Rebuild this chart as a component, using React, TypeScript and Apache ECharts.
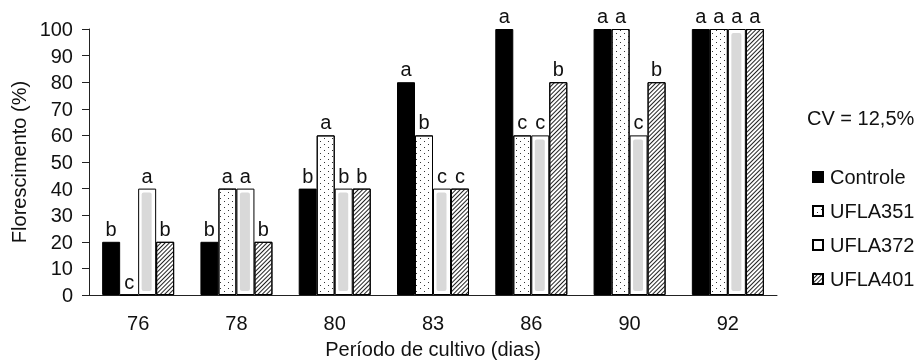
import React, { useEffect, useRef } from "react";
import * as echarts from "echarts";

const categories = ["76", "78", "80", "83", "86", "90", "92"];
const controle = [20, 20, 40, 80, 100, 100, 100];
const ufla351 = [0, 40, 60, 60, 60, 100, 100];
const ufla372 = [40, 40, 40, 40, 60, 60, 100];
const ufla401 = [20, 20, 40, 40, 80, 80, 100];
const lettersControle = ["b", "b", "b", "a", "a", "a", "a"];
const letters351 = ["c", "a", "a", "b", "c", "a", "a"];
const letters372 = ["a", "a", "b", "c", "c", "c", "a"];
const letters401 = ["b", "b", "b", "c", "b", "b", "a"];
const seriesNames = ["Controle", "UFLA351", "UFLA372", "UFLA401"];
const cvText = "CV = 12,5%";

const FONT = "'Liberation Sans', Arial, sans-serif";
const TXT = "#111";

export default function App() {
  const ref = useRef<HTMLDivElement>(null);
  useEffect(() => {
    if (!ref.current) return;
    const chart = echarts.init(ref.current, null, { renderer: "svg" });
    const lbl = (letters: string[]) => ({
      show: true,
      position: "top",
      distance: 3,
      fontFamily: FONT,
      fontSize: 20,
      color: TXT,
      formatter: (p: any) => letters[p.dataIndex],
    });
    const base = {
      type: "bar",
      barWidth: 18,
      barGap: "0%",
    };
    chart.setOption({
      animation: false,
      textStyle: { fontFamily: FONT },
      grid: { left: 89, right: 141, top: 29, bottom: 64 },
      legend: {
        data: seriesNames,
        orient: "vertical",
        left: 807,
        top: 162,
        itemWidth: 10,
        itemHeight: 10,
        itemGap: 14,
        icon: "rect",
        textStyle: {
          fontFamily: FONT,
          fontSize: 20,
          color: TXT,
          lineHeight: 20,
          padding: [0, 0, 0, 2],
        },
      },
      graphic: [
        {
          type: "text",
          left: 807,
          top: 108,
          style: { text: cvText, font: `20px ${FONT}`, fill: TXT },
        },
      ],
      xAxis: {
        type: "category",
        data: categories,
        name: "Período de cultivo (dias)",
        nameLocation: "middle",
        nameGap: 44,
        nameTextStyle: { fontFamily: FONT, fontSize: 20, color: TXT },
        axisLine: { lineStyle: { color: "#222", width: 1 } },
        axisTick: { inside: true, length: 5, lineStyle: { color: "#222" } },
        axisLabel: { fontFamily: FONT, fontSize: 20, color: TXT, margin: 18 },
      },
      yAxis: {
        type: "value",
        min: 0,
        max: 100,
        interval: 10,
        name: "Florescimento (%)",
        nameLocation: "middle",
        nameGap: 52,
        nameTextStyle: { fontFamily: FONT, fontSize: 20, color: TXT },
        splitLine: { show: false },
        axisLine: { show: true, lineStyle: { color: "#222", width: 1 } },
        axisTick: { show: true, length: 7, lineStyle: { color: "#222" } },
        axisLabel: { fontFamily: FONT, fontSize: 20, color: TXT, margin: 16 },
      },
      series: [
        {
          ...base,
          name: "Controle",
          data: controle,
          itemStyle: { color: "#000", borderColor: "#000", borderWidth: 1 },
          label: lbl(lettersControle),
        },
        {
          ...base,
          name: "UFLA351",
          data: ufla351,
          itemStyle: {
            color: "#fff",
            borderColor: "#000",
            borderWidth: 1,
            decal: {
              symbol: "rect",
              symbolSize: 1,
              color: "#333",
              backgroundColor: "#fff",
              dashArrayX: [
                [1, 7],
                [0, 4, 1, 3],
              ],
              dashArrayY: [1, 2],
            },
          },
          label: lbl(letters351),
        },
        {
          ...base,
          name: "UFLA372",
          data: ufla372,
          itemStyle: { color: "#fff", borderColor: "#000", borderWidth: 1 },
          label: lbl(letters372),
        },
        {
          ...base,
          name: "UFLA401",
          data: ufla401,
          itemStyle: {
            color: "#fff",
            borderColor: "#000",
            borderWidth: 1,
            decal: {
              symbol: "rect",
              symbolSize: 1,
              color: "#222",
              backgroundColor: "#fff",
              dashArrayX: [1, 0],
              dashArrayY: [1, 2],
              rotation: -Math.PI / 4,
            },
          },
          label: lbl(letters401),
        },
        {
          type: "custom",
          name: "inner372",
          silent: true,
          z: 5,
          data: ufla372.map((v, i) => [i, v]),
          renderItem: (params: any, api: any) => {
            const idx = api.value(0);
            const v = api.value(1);
            if (!v) return null;
            const top = api.coord([idx, v]);
            const bot = api.coord([idx, 0]);
            const cx = bot[0];
            return {
              type: "rect",
              shape: {
                x: cx + 3.5,
                y: top[1] + 4,
                width: 10,
                height: bot[1] - 4 - (top[1] + 4),
                r: 2,
              },
              style: { fill: "#d9d9d9" },
            };
          },
        },
      ],
    });
    return () => chart.dispose();
  }, []);
  return (
    <div
      ref={ref}
      style={{ position: "fixed", left: 0, top: 0, width: 918, height: 364 }}
    />
  );
}
